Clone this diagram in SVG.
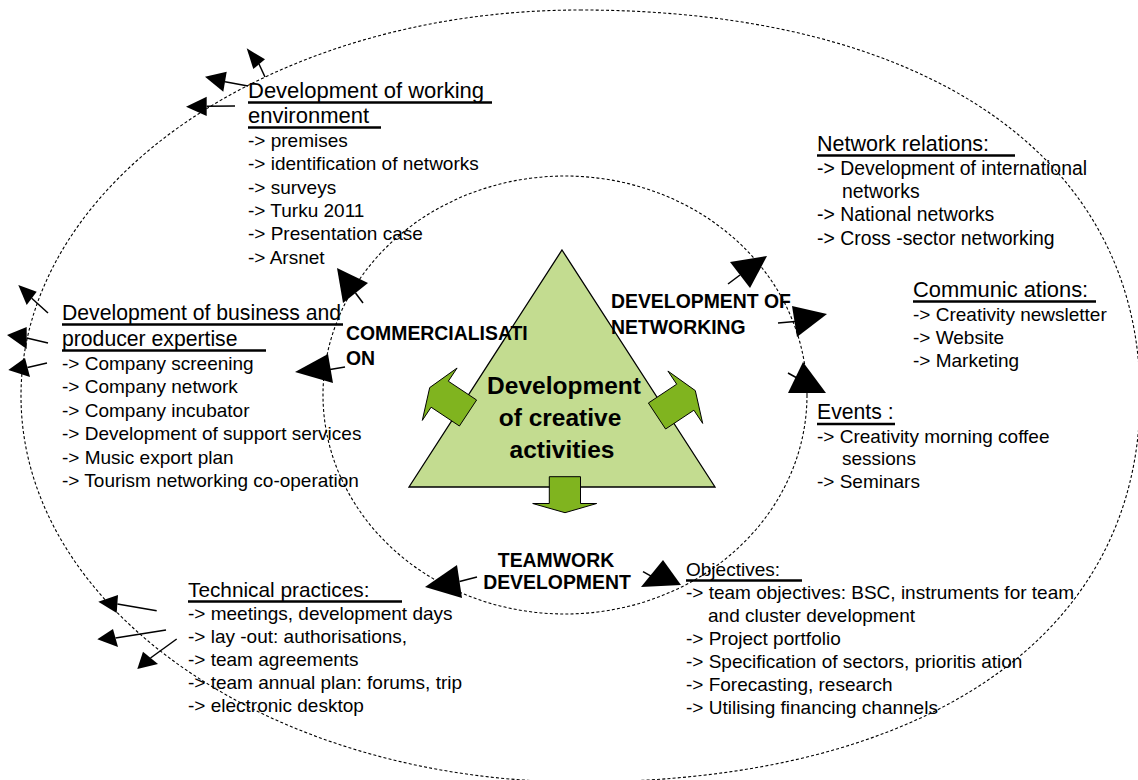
<svg xmlns="http://www.w3.org/2000/svg" width="1138" height="780" viewBox="0 0 1138 780">
  <style>
    .t { font-family: "Liberation Sans", Arial, sans-serif; font-size: 19px; fill: #000; }
    .h { font-family: "Liberation Sans", Arial, sans-serif; font-size: 21.5px; fill: #000; }
    .b { font-family: "Liberation Sans", Arial, sans-serif; font-weight: bold; font-size: 19.4px; fill: #000; }
    .core { font-family: "Liberation Sans", Arial, sans-serif; font-weight: bold; font-size: 24.5px; fill: #000; text-anchor: middle; }
    .ul { stroke: #000; stroke-width: 2.6; fill: none; }
    .cycle { fill: none; stroke: #000; stroke-width: 1.1; stroke-dasharray: 3 2.2; }
    .stem { stroke: #000; stroke-width: 1.5; fill: none; }
    .head { fill: #000; stroke: none; }
    .block { fill: #80b41f; stroke: #000; stroke-width: 1; stroke-linejoin: miter; }
  </style>
  <rect width="1138" height="780" fill="#fff"/>

  <!-- dotted cycles -->
  <g id="cycles">
    <path class="cycle" d="M580,10 C927,10 1140,157 1140,396 C1140,635 927,782 580,782 C271,782 21,609 21,396 C21,183 271,10 580,10 Z"/>
    <ellipse class="cycle" cx="565" cy="395" rx="242" ry="219"/>
  </g>

  <!-- core triangle with block arrows -->
  <g id="core">
    <polygon points="562,250 715,487 409,487" fill="#c3dc90" stroke="#000" stroke-width="1.3"/>
    <polygon class="block" points="476.6,400 448.3,381.2 457.1,368 429.7,387.6 422.3,420.4 431.1,407.2 459.4,426"/>
    <polygon class="block" points="648.4,403 676.7,384.2 667.9,371 695.3,390.6 702.7,423.4 693.9,410.2 665.6,429"/>
    <polygon class="block" points="549.3,476.7 580.5,476.7 580.5,503.5 596.7,503.5 565,512.7 532.7,503.5 549.3,503.5"/>
    <text class="core" x="564" y="394">Development</text>
    <text class="core" x="560" y="426">of creative</text>
    <text class="core" x="562" y="458">activities</text>
  </g>

  <!-- inner cycle labels -->
  <g id="label-commercialisation">
    <text class="b" x="346" y="340">COMMERCIALISATI</text>
    <text class="b" x="346" y="365">ON</text>
  </g>
  <g id="label-networking">
    <text class="b" x="611" y="308">DEVELOPMENT OF</text>
    <text class="b" x="611" y="334">NETWORKING</text>
  </g>
  <g id="label-teamwork">
    <text class="b" x="556" y="567" text-anchor="middle">TEAMWORK</text>
    <text class="b" x="557" y="589" text-anchor="middle">DEVELOPMENT</text>
  </g>

  <!-- working environment -->
  <g id="working-environment">
    <text class="h" x="248" y="98" style="font-size:22px">Development of working</text>
    <line class="ul" x1="248" y1="102.5" x2="492" y2="102.5"/>
    <text class="h" x="248" y="123" style="font-size:22px">environment</text>
    <line class="ul" x1="248" y1="127.5" x2="381" y2="127.5"/>
    <text class="t" x="248" y="147">-&gt; premises</text>
    <text class="t" x="248" y="170.3">-&gt; identification of networks</text>
    <text class="t" x="248" y="193.6">-&gt; surveys</text>
    <text class="t" x="248" y="216.9">-&gt; Turku 2011</text>
    <text class="t" x="248" y="240.2">-&gt; Presentation case</text>
    <text class="t" x="248" y="263.5">-&gt; Arsnet</text>
  </g>

  <!-- business expertise -->
  <g id="business-expertise">
    <text class="h" x="62" y="320" style="font-size:21.2px">Development of business and</text>
    <line class="ul" x1="62" y1="324.5" x2="343" y2="324.5"/>
    <text class="h" x="62" y="346" style="font-size:21.2px">producer expertise</text>
    <line class="ul" x1="62" y1="350.5" x2="266" y2="350.5"/>
    <text class="t" x="62" y="370">-&gt; Company screening</text>
    <text class="t" x="62" y="393.4">-&gt; Company network</text>
    <text class="t" x="62" y="416.8">-&gt; Company incubator</text>
    <text class="t" x="62" y="440.2">-&gt; Development of support services</text>
    <text class="t" x="62" y="463.6">-&gt; Music export plan</text>
    <text class="t" x="62" y="487">-&gt; Tourism networking co-operation</text>
  </g>

  <!-- technical practices -->
  <g id="technical-practices">
    <text class="h" x="188" y="597" style="font-size:20.8px">Technical practices:</text>
    <line class="ul" x1="188" y1="601.5" x2="402" y2="601.5"/>
    <text class="t" x="188" y="620">-&gt; meetings, development days</text>
    <text class="t" x="188" y="643">-&gt; lay -out: authorisations,</text>
    <text class="t" x="188" y="666">-&gt; team agreements</text>
    <text class="t" x="188" y="689">-&gt; team annual plan: forums, trip</text>
    <text class="t" x="188" y="712">-&gt; electronic desktop</text>
  </g>

  <!-- network relations -->
  <g id="network-relations">
    <text class="h" x="817" y="151">Network relations:</text>
    <line class="ul" x1="817" y1="155.5" x2="1015" y2="155.5"/>
    <text class="t" x="817" y="175" style="font-size:19.4px">-&gt; Development of international</text>
    <text class="t" x="842" y="198" style="font-size:19.4px">networks</text>
    <text class="t" x="817" y="221" style="font-size:19.4px">-&gt; National networks</text>
    <text class="t" x="817" y="245" style="font-size:19.4px">-&gt; Cross -sector networking</text>
  </g>

  <!-- communications -->
  <g id="communications">
    <text class="h" x="913" y="297" style="font-size:21.9px">Communic ations:</text>
    <line class="ul" x1="913" y1="301.5" x2="1096" y2="301.5"/>
    <text class="t" x="913" y="321">-&gt; Creativity newsletter</text>
    <text class="t" x="913" y="344">-&gt; Website</text>
    <text class="t" x="913" y="367">-&gt; Marketing</text>
  </g>

  <!-- events -->
  <g id="events">
    <text class="h" x="817" y="419" style="font-size:21.2px">Events :</text>
    <line class="ul" x1="817" y1="424" x2="895" y2="424"/>
    <text class="t" x="817" y="443">-&gt; Creativity morning coffee</text>
    <text class="t" x="842" y="465">sessions</text>
    <text class="t" x="817" y="488">-&gt; Seminars</text>
  </g>

  <!-- objectives -->
  <g id="objectives">
    <text class="t" x="686" y="576">Objectives:</text>
    <line class="ul" x1="686" y1="580.5" x2="802" y2="580.5"/>
    <text class="t" x="686" y="599">-&gt; team objectives: BSC, instruments for team</text>
    <text class="t" x="708" y="622">and cluster development</text>
    <text class="t" x="686" y="645">-&gt; Project portfolio</text>
    <text class="t" x="686" y="668">-&gt; Specification of sectors, prioritis ation</text>
    <text class="t" x="686" y="691">-&gt; Forecasting, research</text>
    <text class="t" x="686" y="714">-&gt; Utilising financing channels</text>
  </g>

  <!-- connectors: stems and filled arrowheads -->
  <g id="connectors">
    <!-- top left, towards the outer cycle -->
    <line class="stem" x1="265" y1="77" x2="259" y2="64"/>
    <polygon class="head" points="246.7,48.3 265,59.3 253.3,69"/>
    <line class="stem" x1="248" y1="86" x2="225" y2="81.7"/>
    <polygon class="head" points="205,76.7 226.7,71.7 223.3,91.7"/>
    <line class="stem" x1="235" y1="106" x2="206.7" y2="106.3"/>
    <polygon class="head" points="186,106.7 206.7,96.7 206.7,116"/>

    <!-- left side -->
    <line class="stem" x1="48" y1="313" x2="31.7" y2="298.3"/>
    <polygon class="head" points="18.3,285 36.7,291.7 26.7,305"/>
    <line class="stem" x1="48" y1="343" x2="26.7" y2="338"/>
    <polygon class="head" points="7,335 26.7,327 26.7,349"/>
    <line class="stem" x1="47" y1="363" x2="27.5" y2="367.5"/>
    <polygon class="head" points="8.3,370 25,358 30,377"/>

    <!-- bottom left -->
    <line class="stem" x1="156.7" y1="610.7" x2="117.4" y2="604"/>
    <polygon class="head" points="98.3,601.7 118,595 116.7,613"/>
    <line class="stem" x1="166" y1="630" x2="115.5" y2="638"/>
    <polygon class="head" points="97.3,639.3 113,629 118,647"/>
    <line class="stem" x1="176.7" y1="639" x2="150.5" y2="658"/>
    <polygon class="head" points="137.3,669 143,651.7 158,664"/>

    <!-- commercialisation -->
    <line class="stem" x1="363" y1="303" x2="355.5" y2="293"/>
    <polygon class="head" points="337,268 368,283 343,303"/>
    <line class="stem" x1="345" y1="367" x2="330" y2="369.5"/>
    <polygon class="head" points="295,372 328,354 333,383"/>

    <!-- development of networking -->
    <line class="stem" x1="728" y1="284" x2="740" y2="275"/>
    <polygon class="head" points="767,256 730,262 750,288"/>
    <line class="stem" x1="778" y1="323" x2="795" y2="321.5"/>
    <polygon class="head" points="827,314 792,306 797,337"/>
    <line class="stem" x1="788" y1="373" x2="797" y2="378"/>
    <polygon class="head" points="803,362 826,393 788,393"/>

    <!-- teamwork development -->
    <line class="stem" x1="477" y1="577" x2="459.5" y2="581.5"/>
    <polygon class="head" points="425,587 457,565 462,598"/>
    <line class="stem" x1="643" y1="571.7" x2="652" y2="576.7"/>
    <polygon class="head" points="641,587 663,560 681,585"/>
  </g>
</svg>
